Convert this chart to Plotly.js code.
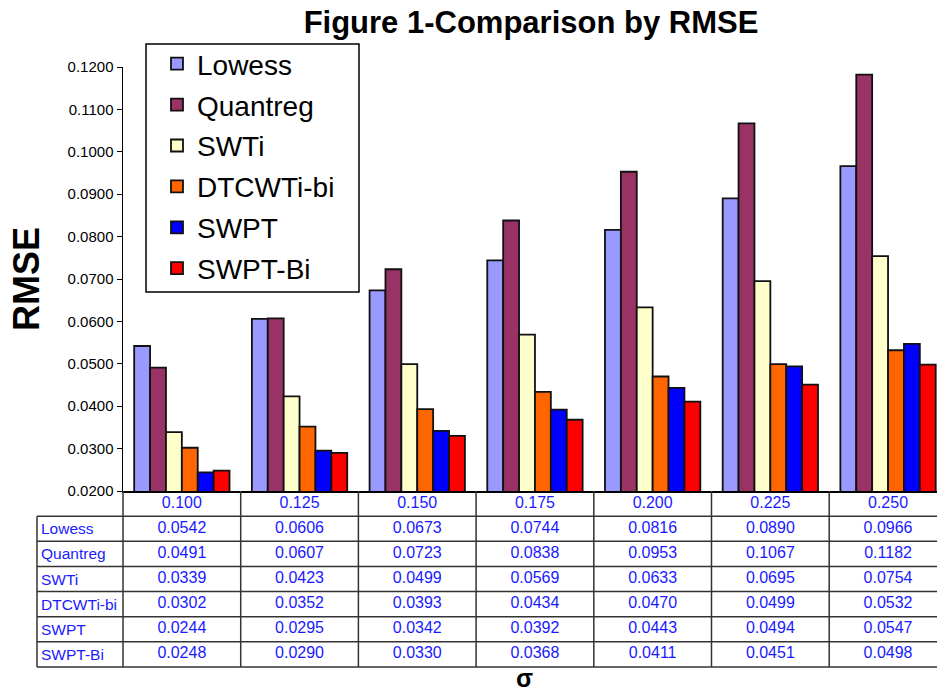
<!DOCTYPE html>
<html>
<head>
<meta charset="utf-8">
<script src="https://cdn.plot.ly/plotly-3.0.1.min.js"></script>
<style>html,body{margin:0;padding:0;background:#fff;}#chart{width:938px;height:694px;}</style>
</head>
<body>
<div id="chart"></div>
<script>
// ---- data ----
const sigmas = ['0.100', '0.125', '0.150', '0.175', '0.200', '0.225', '0.250'];
const seriesNames = ['Lowess', 'Quantreg', 'SWTi', 'DTCWTi-bi', 'SWPT', 'SWPT-Bi'];
const lowess    = [0.0542, 0.0606, 0.0673, 0.0744, 0.0816, 0.0890, 0.0966];
const quantreg  = [0.0491, 0.0607, 0.0723, 0.0838, 0.0953, 0.1067, 0.1182];
const swti      = [0.0339, 0.0423, 0.0499, 0.0569, 0.0633, 0.0695, 0.0754];
const dtcwtibi  = [0.0302, 0.0352, 0.0393, 0.0434, 0.0470, 0.0499, 0.0532];
const swpt      = [0.0244, 0.0295, 0.0342, 0.0392, 0.0443, 0.0494, 0.0547];
const swptbi    = [0.0248, 0.0290, 0.0330, 0.0368, 0.0411, 0.0451, 0.0498];
const seriesValues = [lowess, quantreg, swti, dtcwtibi, swpt, swptbi];
const colors = ['#9999FF', '#993366', '#FFFFCC', '#FF6600', '#0000FF', '#FF0000'];

// ---- layout geometry ----
const W = 938, H = 694;
const mL = 123, mR = 1, mT = 67, mB = 27;
const plotW = W - mL - mR, plotH = H - mT - mB;
const D = (667 - 491) / plotH;           // table domain height (paper)
const nRows = seriesNames.length + 1;
const catPx = 117.7;
const r0 = -0.5, r1 = -0.5 + plotW / catPx;
const Lx = (37 - mL) / plotW;            // left edge of label column (paper)
const tableColor = '#333333';
const textBlue = '#1a1aff';
const FONT = 'Arial, "Liberation Sans", sans-serif';
const px2x = p => (p - mL) / plotW;
const px2y = p => 1 - (p - mT) / plotH;

const traces = [];
seriesNames.forEach((name, i) => {
  traces.push({
    type: 'bar', name: name, x: sigmas, y: seriesValues[i],
    xaxis: 'x', yaxis: 'y',
    marker: {color: colors[i], line: {color: '#111111', width: 1.8}},
    legendgroup: 'g' + i, hoverinfo: 'x+y'
  });
});
// header row of the table
traces.push({
  type: 'scatter', mode: 'text', x: sigmas, y: sigmas.map(() => 0.5),
  text: sigmas, xaxis: 'x', yaxis: 'y2', showlegend: false, cliponaxis: false,
  textfont: {family: FONT, size: 16, color: textBlue}, hoverinfo: 'skip'
});
seriesNames.forEach((name, i) => {
  traces.push({
    type: 'scatter', mode: 'text', x: sigmas, y: sigmas.map(() => i + 1.5),
    text: seriesValues[i].map(v => v.toFixed(4)), xaxis: 'x', yaxis: 'y2',
    showlegend: false, cliponaxis: false,
    textfont: {family: FONT, size: 16, color: textBlue}, hoverinfo: 'skip'
  });
});

const shapes = [];
for (let k = 1; k <= nRows; k++) {
  const yy = D * (1 - k / nRows);
  shapes.push({type: 'line', xref: 'paper', yref: 'paper', x0: Lx, x1: 1, y0: yy, y1: yy,
    line: {color: tableColor, width: 1.5}});
}
shapes.push({type: 'line', xref: 'paper', yref: 'paper', x0: Lx, x1: Lx, y0: 0, y1: D * (1 - 1 / nRows),
  line: {color: tableColor, width: 1.5}});
for (let k = -1; k < sigmas.length - 1; k++) {
  const xx = (k + 0.5 - r0) / (r1 - r0);
  shapes.push({type: 'line', xref: 'paper', yref: 'paper', x0: xx, x1: xx, y0: 0, y1: D,
    line: {color: tableColor, width: 1.5}});
}
// legend frame
shapes.push({type: 'rect', xref: 'paper', yref: 'paper', layer: 'above',
  x0: px2x(146), x1: px2x(359), y0: px2y(292), y1: px2y(44),
  fillcolor: '#ffffff', line: {color: '#000', width: 1.5}});

const annotations = [];
seriesNames.forEach((name, i) => {
  annotations.push({xref: 'paper', yref: 'y2', x: Lx + 2 / plotW, y: i + 1.5, text: name,
    showarrow: false, xanchor: 'left', yanchor: 'middle',
    font: {family: FONT, size: 15.5, color: textBlue}});
});
annotations.push({xref: 'paper', yref: 'paper', x: px2x(26), y: D + (1 - D) / 2,
  text: '<b>RMSE</b>', textangle: -90, showarrow: false, xanchor: 'center', yanchor: 'middle',
  font: {family: FONT, size: 36, color: '#000'}});
annotations.push({xref: 'paper', yref: 'paper', x: px2x(524), y: -mB / plotH,
  text: '<b>σ</b>', showarrow: false, xanchor: 'center', yanchor: 'bottom',
  font: {family: FONT, size: 25, color: '#000'}});

const layout = {
  width: W, height: H,
  margin: {l: mL, r: mR, t: mT, b: mB},
  paper_bgcolor: '#fff', plot_bgcolor: '#fff',
  font: {family: FONT, color: '#000'},
  title: {text: '<b>Figure 1-Comparison by RMSE</b>', x: 531 / W, xanchor: 'center', y: 1 - 22 / H, yanchor: 'middle',
    font: {family: FONT, size: 31, color: '#000'}},
  barmode: 'group', bargap: 0.19, bargroupgap: 0,
  xaxis: {type: 'category', range: [r0, r1], anchor: 'y', showticklabels: false, ticks: '',
    showline: true, linecolor: '#000', linewidth: 1.5, showgrid: false, zeroline: false, fixedrange: true},
  yaxis: {domain: [D, 1], range: [0.02, 0.12], dtick: 0.01, tick0: 0, tickformat: '.4f',
    ticks: 'outside', ticklen: 5, tickcolor: '#000', showline: true, linecolor: '#000', linewidth: 1.5,
    showgrid: false, zeroline: false, tickfont: {size: 15, color: '#000'}, fixedrange: true},
  yaxis2: {domain: [0, D], range: [nRows, 0], anchor: 'x', visible: false, fixedrange: true},
  legend: {x: px2x(157), y: px2y(39), xanchor: 'left', yanchor: 'top',
    bgcolor: 'rgba(0,0,0,0)', borderwidth: 0,
    font: {family: FONT, size: 28, color: '#000'},
    traceorder: 'grouped', tracegroupgap: 1.5, itemwidth: 30},
  shapes: shapes, annotations: annotations
};

Plotly.newPlot('chart', traces, layout, {displayModeBar: false, staticPlot: true});
</script>
</body>
</html>
